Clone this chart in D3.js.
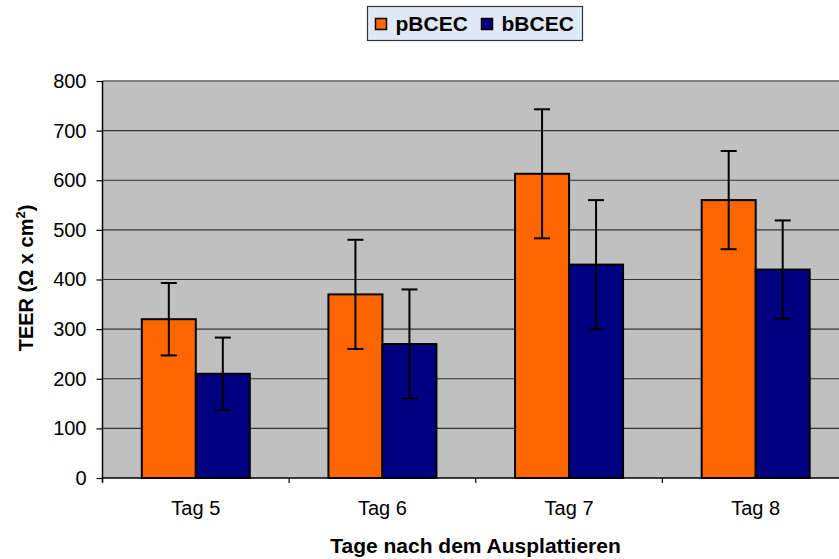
<!DOCTYPE html>
<html><head><meta charset="utf-8">
<script src="https://cdn.jsdelivr.net/npm/d3@7"></script>
<style>body{margin:0;background:#fff}svg{display:block;font-family:"Liberation Sans",Arial,sans-serif}</style>
</head><body>
<svg id="c" width="839" height="559"></svg>
<script>
const categories = ["Tag 5","Tag 6","Tag 7","Tag 8"];
const seriesNames = ["pBCEC","bBCEC"];
const pBCEC = [320, 370, 613, 560];
const bBCEC = [210, 270, 430, 420];
const pErr = [73, 110, 130, 99];
const bErr = [73, 110, 130, 99];
const yTicks = [0,100,200,300,400,500,600,700,800];
const colors = ["#ff6600","#000080"];

const svg = d3.select("#c");
const FF = "Liberation Sans, Arial, sans-serif";
const L = 102.5, R = 849, T = 81, B = 478, W = 839;
const x = d3.scaleBand().domain(categories).range([L, R]).paddingInner(0).paddingOuter(0);
const y = d3.scaleLinear().domain([0, 800]).range([B, T]);
const xs = d3.scaleBand().domain(seriesNames).range([0, x.bandwidth()]).paddingInner(0).paddingOuter(0.728);

svg.append("rect").attr("x", L).attr("y", T).attr("width", W - L).attr("height", B - T).attr("fill", "#c0c0c0");
svg.append("g").selectAll("line").data(yTicks.filter(d => d > 0)).join("line")
  .attr("x1", L).attr("x2", W).attr("y1", d => y(d)).attr("y2", d => y(d))
  .attr("stroke", d => d === 800 ? "#808080" : "#333").attr("stroke-width", d => d === 800 ? 2 : 1.2);

const data = [pBCEC, bBCEC];
const errs = [pErr, bErr];
seriesNames.forEach((s, si) => {
  const g = svg.append("g");
  g.selectAll("rect").data(categories).join("rect")
    .attr("x", c => x(c) + xs(s)).attr("width", xs.bandwidth())
    .attr("y", (c, i) => y(data[si][i])).attr("height", (c, i) => y(0) - y(data[si][i]))
    .attr("fill", colors[si]).attr("stroke", "#000").attr("stroke-width", 2);
});
seriesNames.forEach((s, si) => {
  const g = svg.append("g").attr("stroke", "#000").attr("stroke-width", 2);
  categories.forEach((c, i) => {
    const cx = x(c) + xs(s) + xs.bandwidth() / 2;
    const v = data[si][i], e = errs[si][i];
    g.append("line").attr("x1", cx).attr("x2", cx).attr("y1", y(v + e)).attr("y2", y(v - e));
    g.append("line").attr("x1", cx - 8).attr("x2", cx + 8).attr("y1", y(v + e)).attr("y2", y(v + e));
    g.append("line").attr("x1", cx - 8).attr("x2", cx + 8).attr("y1", y(v - e)).attr("y2", y(v - e));
  });
});

// axes
const ya = svg.append("g").attr("transform", `translate(${L},0)`)
  .call(d3.axisLeft(y).tickValues(yTicks).tickSize(6).tickPadding(10));
ya.select(".domain").attr("stroke", "#000").attr("stroke-width", 1.5).attr("d", `M0,${B+4}V${T}`);
ya.selectAll(".tick line").attr("stroke", "#000").attr("stroke-width", 1.2);
ya.selectAll("text").attr("font-size", 20).attr("fill", "#000").attr("font-family", FF);

const xa = svg.append("g").attr("transform", `translate(0,${B})`)
  .call(d3.axisBottom(x).tickSize(0).tickPadding(23));
xa.select(".domain").attr("stroke", "#000").attr("stroke-width", 1.5).attr("d", `M${L},0H${W}`);
xa.selectAll("text").attr("font-size", 20).attr("fill", "#000").attr("font-family", FF);
svg.append("g").selectAll("line").data(categories).join("line")
  .attr("x1", c => x(c)).attr("x2", c => x(c)).attr("y1", B).attr("y2", B + 5)
  .attr("stroke", "#000").attr("stroke-width", 1.2);

// titles
svg.append("text").attr("x", 475.5).attr("y", 553).attr("text-anchor", "middle")
  .attr("font-size", 21).attr("font-weight", "bold").text("Tage nach dem Ausplattieren");
const yt = svg.append("text").attr("transform", "translate(33,278) rotate(-90)").attr("text-anchor", "middle")
  .attr("font-size", 20).attr("font-weight", "bold");
yt.append("tspan").text("TEER (Ω x cm");
yt.append("tspan").attr("font-size", 13).attr("dy", -8).text("2");
yt.append("tspan").attr("dy", 8).text(")");

// legend
const lg = svg.append("g");
lg.append("rect").attr("x", 367.5).attr("y", 6.5).attr("width", 215).attr("height", 34)
  .attr("fill", "#dfe9f5").attr("stroke", "#333").attr("stroke-width", 1.2);
const items = [{n: seriesNames[0], x: 375.5}, {n: seriesNames[1], x: 481.5}];
items.forEach((it, i) => {
  lg.append("rect").attr("x", it.x).attr("y", 18.5).attr("width", 11).attr("height", 11)
    .attr("fill", colors[i]).attr("stroke", "#000").attr("stroke-width", 1.5);
  lg.append("text").attr("x", it.x + 20).attr("y", 31).attr("font-size", 21).attr("font-weight", "bold").text(it.n);
});
</script>
</body></html>
